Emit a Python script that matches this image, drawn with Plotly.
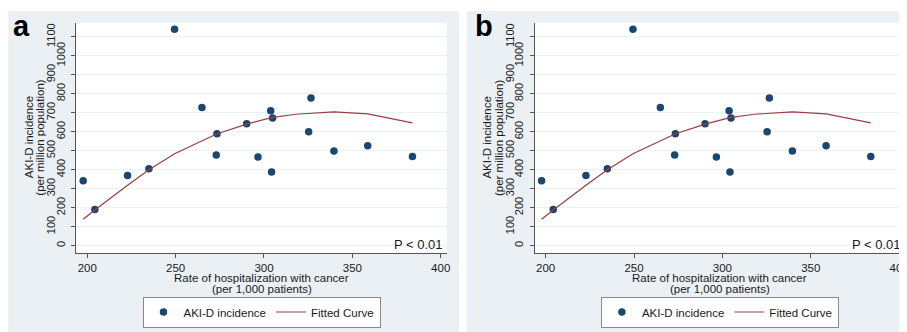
import plotly.graph_objects as go

# ---- data ----
rate = [197.7, 204.3, 222.8, 234.9, 249.4, 264.9, 273.4, 273.0, 290.2, 296.6,
        303.8, 304.9, 304.3, 325.3, 326.6, 339.6, 358.7, 384.0]
aki = [342, 191, 370, 405, 1139, 728, 589, 477, 642, 467,
       711, 672, 388, 600, 777, 498, 526, 470]

fit_x = [197.7, 204.3, 222.8, 234.9, 249.4, 258.0, 273.2, 290.2, 304.3, 318.0,
         339.6, 358.7, 384.0]
fit_y = [139, 188, 318, 400, 484, 521, 588, 640, 674, 692, 705, 694, 647]

y_ticks = list(range(0, 1101, 100))
y_even = [v for v in y_ticks if v % 200 == 0]
y_odd = [v for v in y_ticks if v % 200 == 100]
x_ticks = [200, 250, 300, 350, 400]
panel_labels = ["a", "b"]
x_title = ["Rate of hospitalization with cancer", "(per 1,000 patients)"]
y_title = ["AKI-D incidence", "(per million population)"]

# The page body has an 8px margin; the figure is sized to fill the rest of the window.
PAGE = 8
W, H = 907 - PAGE, 332 - PAGE
FONT = "Liberation Sans, Arial, sans-serif"
TXT = "#1a1a1a"
PANEL_BG = "#EAF0F3"
NAVY = "#1A476F"
MAROON = "#9A3D45"
AX = "#555555"

def px_x(p):
    return (p - PAGE) / W

def px_y(p):
    return 1 - (p - PAGE) / H

fig = go.Figure()

offset = 458.4
panels = []
for i in range(2):
    dx = offset * i
    panels.append(dict(
        bg=(max(8.3 + dx, PAGE), min(459 + dx, 907), 11, 332),
        plot=(76.3 + dx, min(446.7 + dx, 907), 22.7, 252.7),
        dx=dx,
    ))

shapes = []
for p in panels:
    x0, x1, y0, y1 = p["bg"]
    shapes.append(dict(type="rect", xref="paper", yref="paper", layer="below",
                       x0=px_x(x0), x1=px_x(x1), y0=px_y(y1), y1=px_y(y0),
                       fillcolor=PANEL_BG, line=dict(width=0)))
    x0, x1, y0, y1 = p["plot"]
    shapes.append(dict(type="rect", xref="paper", yref="paper", layer="below",
                       x0=px_x(x0), x1=px_x(x1), y0=px_y(y1), y1=px_y(y0),
                       fillcolor="white", line=dict(width=0)))

annotations = []
layout = dict(
    width=W, height=H, margin=dict(l=0, r=0, t=0, b=0, autoexpand=False),
    paper_bgcolor="white", plot_bgcolor="rgba(0,0,0,0)",
    font=dict(family=FONT, size=11.5, color=TXT),
    showlegend=True,
)

for i, p in enumerate(panels):
    sfx = "" if i == 0 else str(i + 1)
    osfx = str(i + 3)
    xa, ya, yo = "x" + sfx, "y" + sfx, "y" + osfx
    leg = "legend" + sfx
    fig.add_trace(go.Scatter(x=rate, y=aki, mode="markers", name="AKI-D incidence",
                             marker=dict(color=NAVY, size=7.5),
                             xaxis=xa, yaxis=ya, legend=leg))
    fig.add_trace(go.Scatter(x=fit_x, y=fit_y, mode="lines", name="Fitted Curve",
                             line=dict(color=MAROON, width=1.2),
                             xaxis=xa, yaxis=ya, legend=leg))
    # carrier for the staggered odd tick labels
    fig.add_trace(go.Scatter(x=[None], y=[None], mode="markers", showlegend=False,
                             hoverinfo="skip", xaxis=xa, yaxis=yo))
    x0, x1, y0, y1 = p["plot"]
    yr = [-37, 1174]
    layout["xaxis" + sfx] = dict(
        domain=[px_x(x0), min(px_x(x1), 1)], anchor=ya, automargin=False,
        range=[193.8, 403.4], tickvals=x_ticks, ticktext=[str(v) for v in x_ticks],
        ticks="outside", ticklen=4, tickcolor=AX, showgrid=False, zeroline=False,
        showline=True, linecolor=AX, linewidth=1, ticklabeloverflow="allow",
        tickfont=dict(size=11.5, color=TXT),
    )
    layout["yaxis" + sfx] = dict(
        domain=[px_y(y1), px_y(y0)], anchor=xa, automargin=False,
        range=yr, tickvals=y_ticks,
        ticktext=[str(v) if v in y_even else "" for v in y_ticks],
        tickangle=-90, ticks="outside", ticklen=4, tickcolor=AX,
        showgrid=True, gridcolor="#EAF2F3", gridwidth=1, zeroline=False,
        showline=True, linecolor=AX, linewidth=1, ticklabelstandoff=2,
        tickfont=dict(size=11, color=TXT),
    )
    layout["yaxis" + osfx] = dict(
        overlaying=ya, anchor=xa, side="left", automargin=False,
        range=yr, tickvals=y_odd, ticktext=[str(v) for v in y_odd],
        tickangle=-90, ticks="", showgrid=False, zeroline=False, showline=False,
        ticklabelstandoff=18, tickfont=dict(size=11, color=TXT),
    )
    cx = (76.3 + 446.7) / 2 + p["dx"]
    layout[leg] = dict(
        orientation="h", x=px_x(cx), xanchor="center", y=px_y(312), yanchor="middle",
        bgcolor="white", bordercolor="#888", borderwidth=1,
        font=dict(size=11.5, color=TXT), tracegroupgap=0,
    )
    annotations.append(dict(text=x_title[0], xref="paper", yref="paper",
                            x=px_x(cx), y=px_y(277.7), xanchor="center", yanchor="middle",
                            showarrow=False, font=dict(size=11.5, color=TXT)))
    annotations.append(dict(text=x_title[1], xref="paper", yref="paper",
                            x=px_x(cx), y=px_y(289.3), xanchor="center", yanchor="middle",
                            showarrow=False, font=dict(size=11.5, color=TXT)))
    cy = (y0 + y1) / 2
    annotations.append(dict(text=y_title[0], xref="paper", yref="paper", textangle=-90,
                            x=px_x(28.5 + p["dx"]), y=px_y(cy), xanchor="center",
                            yanchor="middle", showarrow=False,
                            font=dict(size=11.5, color=TXT)))
    annotations.append(dict(text=y_title[1], xref="paper", yref="paper", textangle=-90,
                            x=px_x(40 + p["dx"]), y=px_y(cy), xanchor="center",
                            yanchor="middle", showarrow=False,
                            font=dict(size=11.5, color=TXT)))
    annotations.append(dict(text="P < 0.01", xref=xa + " domain", yref=ya + " domain",
                            x=1, y=(y1 - 244) / (y1 - y0), xanchor="right",
                            yanchor="middle", xshift=-2, showarrow=False,
                            font=dict(size=13, color=TXT)))
    annotations.append(dict(text="<b>%s</b>" % panel_labels[i], xref="paper", yref="paper",
                            x=px_x(11 + 461.7 * i), y=px_y(26), xanchor="left",
                            yanchor="middle", showarrow=False,
                            font=dict(size=29, color="black")))

layout["shapes"] = shapes
layout["annotations"] = annotations
fig.update_layout(**layout)
fig.write_html("out.html")
